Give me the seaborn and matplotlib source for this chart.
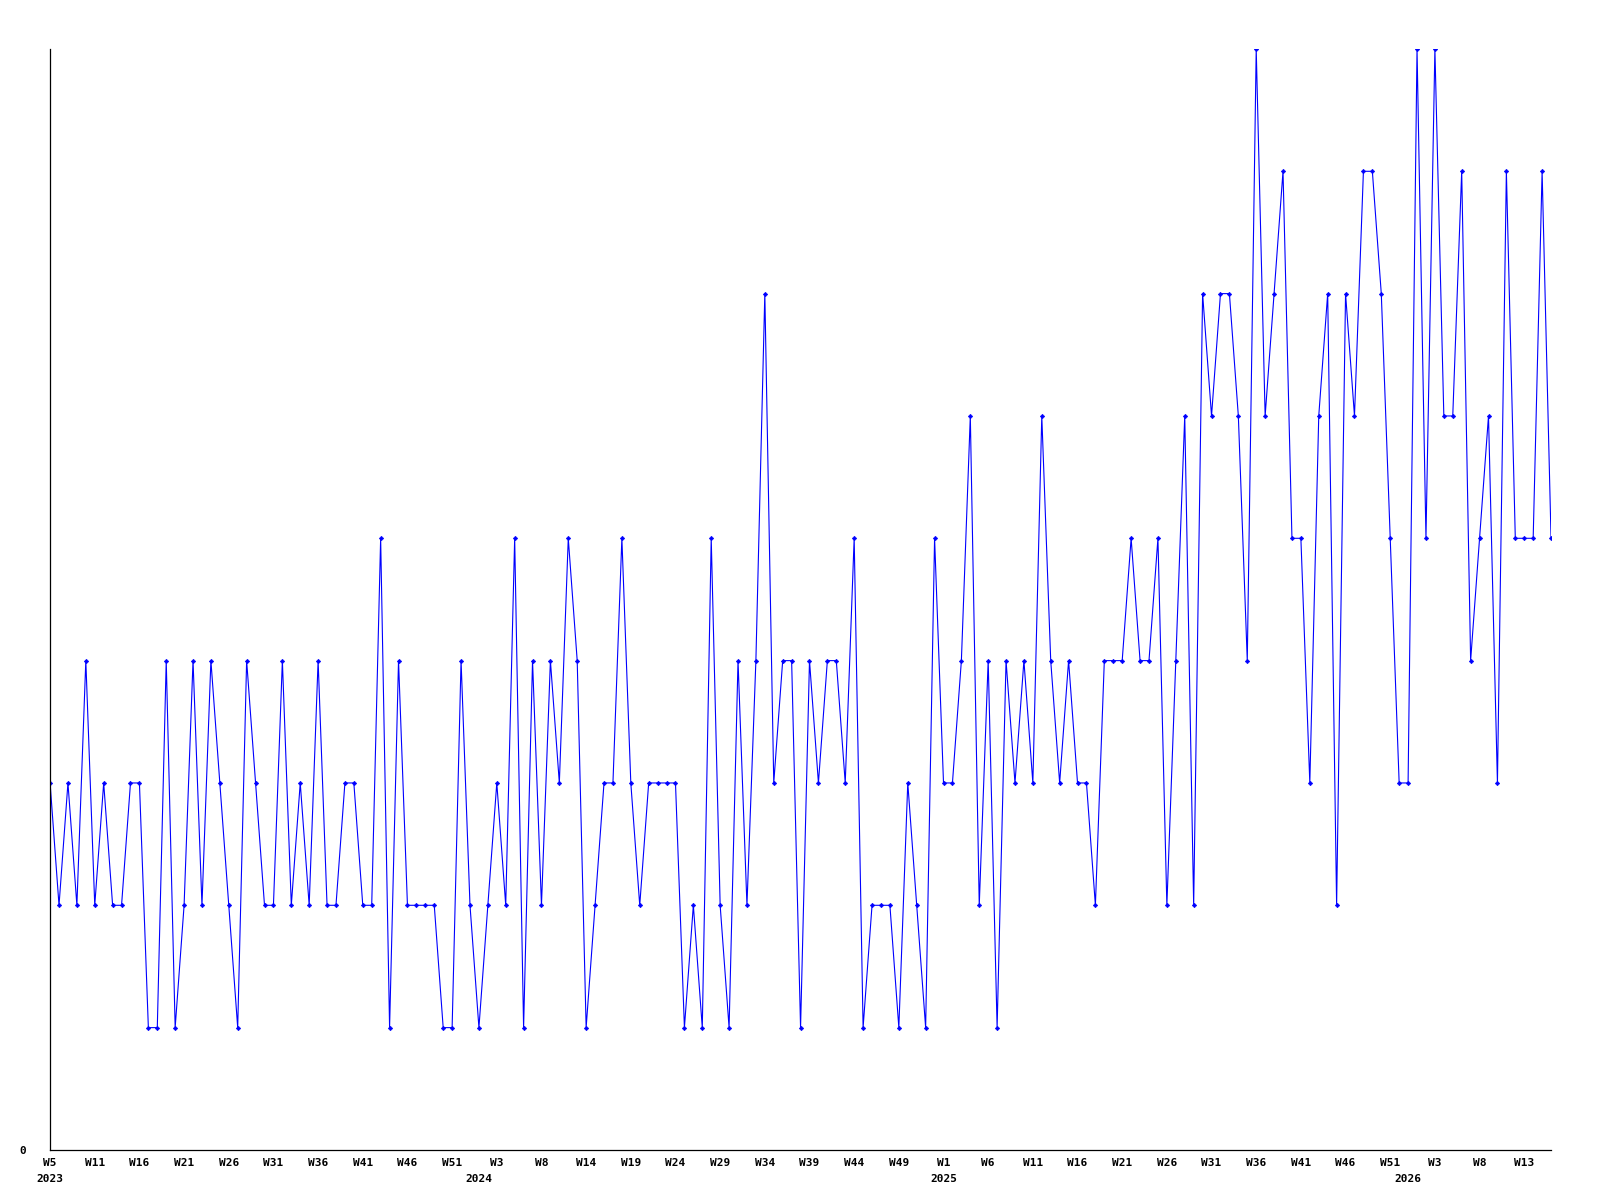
import seaborn as sns
import matplotlib.pyplot as plt
import pandas as pd

# weekly counts, 2023 W5 onwards
counts = [
    3, 2, 3, 2, 4, 2, 3, 2, 2, 3, 3, 1, 1, 4, 1, 2, 4, 2, 4, 3, 2, 1,
    4, 3, 2, 2, 4, 2, 3, 2, 4, 2, 2, 3, 3, 2, 2, 5, 1, 4, 2, 2, 2,
    2, 1, 1, 4, 2, 1, 2, 3, 2, 5, 1, 4, 2, 4, 3, 5, 4, 1, 2, 3, 3, 5,
    3, 2, 3, 3, 3, 3, 1, 2, 1, 5, 2, 1, 4, 2, 4, 7, 3, 4, 4, 1, 4,
    3, 4, 4, 3, 5, 1, 2, 2, 2, 1, 3, 2, 1, 5, 3, 3, 4, 6, 2, 4, 1,
    4, 3, 4, 3, 6, 4, 3, 4, 3, 3, 2, 4, 4, 4, 5, 4, 4, 5, 2, 4, 6,
    2, 7, 6, 7, 7, 6, 4, 9, 6, 7, 8, 5, 5, 3, 6, 7, 2, 7, 6, 8, 8, 7,
    5, 3, 3, 9, 5, 9, 6, 6, 8, 4, 5, 6, 3, 8, 5, 5, 5, 8, 5,
]

week_labels = [
    "W5", "W11", "W16", "W21", "W26", "W31", "W36", "W41", "W46", "W51",
    "W3", "W8", "W14", "W19", "W24", "W29", "W34", "W39", "W44", "W49",
    "W1", "W6", "W11", "W16", "W21", "W26", "W31", "W36", "W41", "W46", "W51",
    "W3", "W8", "W13",
]

first_week = "2023-01-30"

df = pd.DataFrame({
    "week": pd.date_range(first_week, periods=len(counts), freq="7D"),
    "count": counts,
})
df["i"] = range(len(df))
year_start = df.groupby(df["week"].dt.isocalendar().year)["i"].min()

sns.set_theme(style="white")
plt.rcParams["font.family"] = ["DejaVu Sans Mono"]
plt.rcParams["font.weight"] = "bold"

fig = plt.figure(figsize=(16, 12), dpi=100)
ax = fig.add_axes([0.0313, 0.0417, 0.9381, 0.9175])

sns.lineplot(data=df, x="i", y="count", color="#0000ff", linewidth=0.8,
             marker="D", markersize=2.3, markeredgecolor="#0000ff",
             markeredgewidth=0.4, ax=ax)

ax.set_xlim(0, len(df) - 1)
ax.set_ylim(0, df["count"].max())

ax.set_xticks(range(0, len(df), 5))
ax.set_xticklabels(week_labels)
ax.xaxis.remove_overlapping_locs = False
ax.set_xticks(year_start.values, minor=True)
ax.set_xticklabels([str(y) for y in year_start.index], minor=True)
ax.tick_params(axis="x", which="major", length=0, pad=6, labelsize=8,
               labelcolor="black")
ax.tick_params(axis="x", which="minor", length=0, pad=17, labelsize=8,
               labelcolor="black")

ax.set_yticks([0])
ax.set_yticklabels(["0"])
ax.tick_params(axis="y", length=0, pad=17, labelsize=8, labelcolor="black")

ax.set_xlabel("")
ax.set_ylabel("")
sns.despine(ax=ax)
for side in ["left", "bottom"]:
    ax.spines[side].set_color("black")
    ax.spines[side].set_linewidth(0.9)

fig.savefig("out.png", dpi=100)
